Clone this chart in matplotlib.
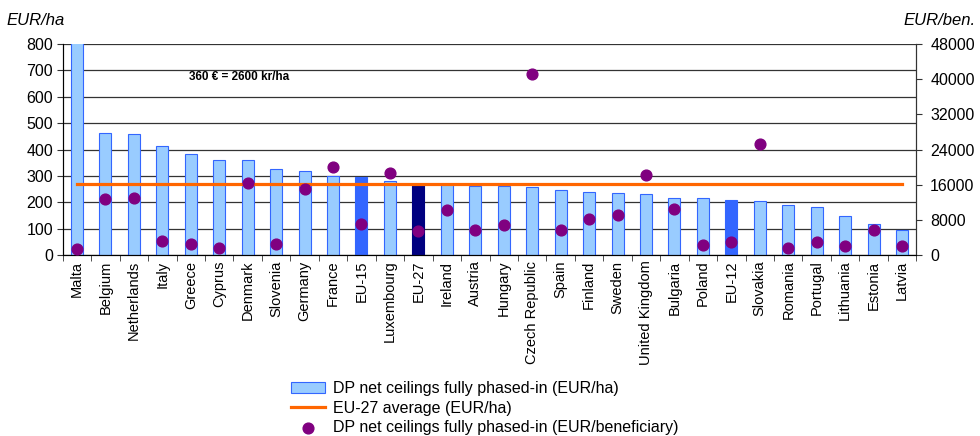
import matplotlib
matplotlib.use('Agg')
import matplotlib.pyplot as plt
import numpy as np

plt.rcParams['font.family'] = ['Liberation Sans', 'DejaVu Sans']

# Direct payment net ceilings, fully phased-in
countries = ['Malta', 'Belgium', 'Netherlands', 'Italy', 'Greece', 'Cyprus', 'Denmark',
             'Slovenia', 'Germany', 'France', 'EU-15', 'Luxembourg', 'EU-27', 'Ireland',
             'Austria', 'Hungary', 'Czech Republic', 'Spain', 'Finland', 'Sweden',
             'United Kingdom', 'Bulgaria', 'Poland', 'EU-12', 'Slovakia', 'Romania',
             'Portugal', 'Lithuania', 'Estonia', 'Latvia']
eur_ha = [830, 464, 460, 413, 384, 362, 362, 325, 317, 301, 297, 282, 269, 268,
          263, 262, 257, 245, 238, 234, 230, 216, 215, 209, 205, 191, 181, 147, 116, 96]
eur_ben = [1300, 12700, 12900, 3300, 2600, 1500, 16400, 2600, 15100, 20100, 7100,
           18600, 5500, 10200, 5800, 6800, 41100, 5600, 8300, 9000, 18300, 10500,
           2400, 3000, 25300, 1700, 3000, 2100, 5800, 2100]
eu27_avg = 270

x = np.arange(len(countries))

bar_colors = []
edge_colors = []
for c in countries:
    if c in ('EU-15', 'EU-12'):
        bar_colors.append('#3366FF')
        edge_colors.append('#3366FF')
    elif c == 'EU-27':
        bar_colors.append('#000080')
        edge_colors.append('#000080')
    else:
        bar_colors.append('#99CCFF')
        edge_colors.append('#3366FF')

fig = plt.figure(figsize=(9.8, 4.36), dpi=100)
ax = fig.add_axes([0.064, 0.415, 0.871, 0.484])

bars = ax.bar(x, eur_ha, width=0.42, color=bar_colors, edgecolor=edge_colors,
              linewidth=0.8, zorder=2)
line, = ax.plot(x, [eu27_avg] * len(x), color='#FF6600', lw=2.3, zorder=3)

ax.set_ylim(0, 800)
ax.set_xlim(-0.5, len(x) - 0.5)
ax.set_yticks(range(0, 801, 100))
ax.yaxis.grid(True, color='#333333', lw=0.9, zorder=0)
ax.set_axisbelow(True)
ax.set_xticks(x)
ax.set_xticklabels(countries, rotation=90, fontsize=10.5)
ax.tick_params(axis='x', length=0, pad=4)
ax.set_xticks(np.arange(-0.5, len(x), 1), minor=True)
ax.tick_params(axis='x', which='minor', length=4, color='#333333')
ax.tick_params(axis='y', labelsize=11.5, length=4, color='#333333', pad=3)
ax.spines['top'].set_visible(False)
for s in ['left', 'bottom', 'right']:
    ax.spines[s].set_color('#333333')

ax2 = ax.twinx()
dots = ax2.scatter(x, eur_ben, s=60, color='#800080', zorder=4)
ax2.set_ylim(0, 48000)
ax2.set_yticks(range(0, 48001, 8000))
ax2.tick_params(axis='y', labelsize=11.5, length=4, color='#333333', pad=6)
ax2.spines['top'].set_visible(False)
ax2.spines['right'].set_color('#333333')

fig.text(0.007, 0.953, 'EUR/ha', fontsize=12, style='italic', va='center')
fig.text(0.996, 0.953, 'EUR/ben.', fontsize=12, style='italic', va='center', ha='right')
ax.text(3.95, 675, '360 € = 2600 kr/ha', fontsize=8.5, fontweight='bold', va='center')

fig.legend([bars, line, dots],
           ['DP net ceilings fully phased-in (EUR/ha)', 'EU-27 average (EUR/ha)',
            'DP net ceilings fully phased-in (EUR/beneficiary)'],
           loc='lower left', bbox_to_anchor=(0.286, -0.024),
           frameon=False, fontsize=11.5, handlelength=2.1, labelspacing=0.28,
           handletextpad=0.5, borderpad=0.2, scatterpoints=1)

fig.savefig('out.png', dpi=100)
